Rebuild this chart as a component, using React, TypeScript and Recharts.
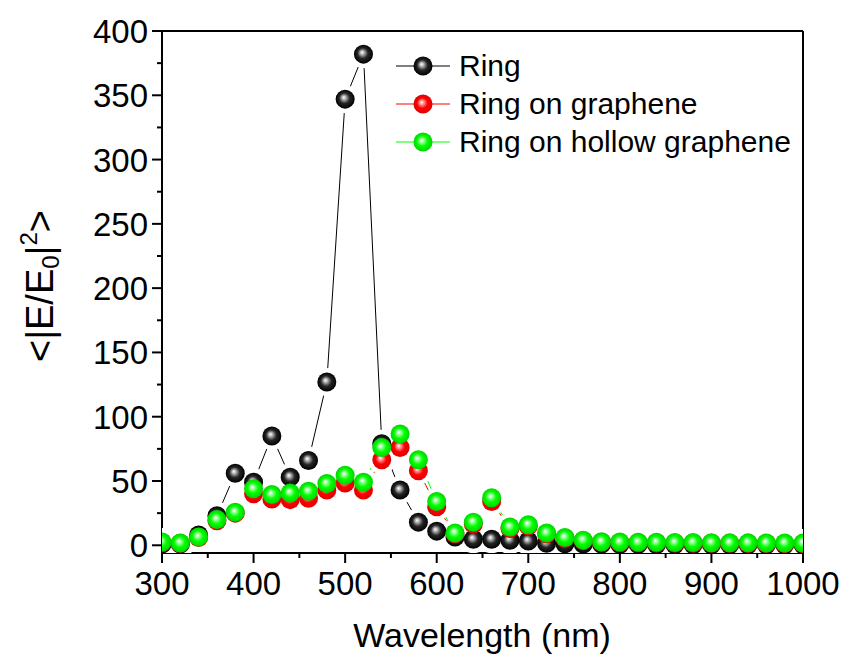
import React from 'react';
import { LineChart, Line, XAxis, YAxis, ReferenceLine, Legend } from 'recharts';

const wavelength = [
  300, 320, 340, 360, 380, 400, 420, 440, 460, 480, 500, 520, 540, 560, 580, 600, 620, 640,
  660, 680, 700, 720, 740, 760, 780, 800, 820, 840, 860, 880, 900, 920, 940, 960, 980, 1000,
];
const ring = [
  1, 1, 8, 23, 56, 49, 85, 53, 66, 127, 347, 382, 79, 43, 18, 11, 6.5, 4.7,
  4.7, 3.9, 3.3, 1.5, 1.2, 1, 0.9, 0.8, 0.7, 0.6, 0.6, 0.5, 0.5, 0.5, 0.4, 0.4, 0.4, 0.4,
];
const ringOnGraphene = [
  2, 1.5, 6, 19, 25, 40, 36, 35.5, 36.5, 43, 48.5, 43, 66.5, 76, 58, 30, 9, 16.5,
  34, 13, 15, 9, 5.5, 3.6, 2.4, 2, 1.9, 1.8, 1.7, 1.6, 1.5, 1.5, 1.4, 1.4, 1.3, 1.3,
];
const ringOnHollow = [
  2.5, 1.8, 6.5, 20, 25.7, 44, 39.5, 40.7, 42, 48, 54.5, 49, 76, 86.5, 66.5, 34, 9.6, 18,
  37, 14.2, 16, 9.6, 6, 4, 2.7, 2.5, 2.4, 2.3, 2.2, 2.1, 2, 1.9, 1.9, 1.8, 1.8, 1.7,
];

const xTicks = [300, 350, 400, 450, 500, 550, 600, 650, 700, 750, 800, 850, 900, 950, 1000];
const yTicks = [0, 25, 50, 75, 100, 125, 150, 175, 200, 225, 250, 275, 300, 325, 350, 375, 400];

const data = wavelength.map((wl, i) => ({
  wl,
  ring: ring[i],
  graphene: ringOnGraphene[i],
  hollow: ringOnHollow[i],
}));

const FONT = '"Liberation Sans", Arial, sans-serif';

const series = [
  { key: 'ring', name: 'Ring', color: '#000000', ball: 'ball-black' },
  { key: 'graphene', name: 'Ring on graphene', color: '#ff0000', ball: 'ball-red' },
  { key: 'hollow', name: 'Ring on hollow graphene', color: '#00ff00', ball: 'ball-green' },
];

function BallGradient({ id, light, mid, dark }: { id: string; light: string; mid: string; dark: string }) {
  return (
    <radialGradient id={id} cx="50%" cy="50%" r="50%" fx="42%" fy="40%">
      <stop offset="0%" stopColor="#ffffff" />
      <stop offset="16%" stopColor={light} />
      <stop offset="55%" stopColor={mid} />
      <stop offset="100%" stopColor={dark} />
    </radialGradient>
  );
}

const BALL_R = 9.5;

const ballDot = (fill: string) => (props: any) => {
  const { cx, cy, index } = props;
  if (cx == null || cy == null) return <g key={index} />;
  return <circle key={index} cx={cx} cy={cy} r={BALL_R} fill={`url(#${fill})`} />;
};

// white ring so the lines stop short of the balls, like the original
const haloDot = (props: any) => {
  const { cx, cy, index } = props;
  if (cx == null || cy == null) return <g key={index} />;
  return <circle key={index} cx={cx} cy={cy} r={14} fill="#ffffff" />;
};

function YTick({ x, y, payload }: any) {
  const major = payload.value % 50 === 0;
  return (
    <g>
      <line x1={x} x2={x - (major ? 10 : 5)} y1={y} y2={y} stroke="#000" strokeWidth={2} />
      {major && (
        <text x={x - 14} y={y} dy={12} textAnchor="end" fontSize={33} fontFamily={FONT} fill="#000">
          {payload.value}
        </text>
      )}
    </g>
  );
}

function XTick({ x, y, payload }: any) {
  const major = payload.value % 100 === 0;
  return (
    <g>
      <line x1={x} x2={x} y1={y} y2={y + (major ? 10 : 5)} stroke="#000" strokeWidth={2} />
      {major && (
        <text x={x} y={y + 42} textAnchor="middle" fontSize={33} fontFamily={FONT} fill="#000">
          {payload.value}
        </text>
      )}
    </g>
  );
}

function XTitle() {
  return (
    <text x={482} y={647} textAnchor="middle" fontSize={34} fontFamily={FONT} fill="#000">
      Wavelength (nm)
    </text>
  );
}

function YTitle() {
  return (
    <text
      x={53}
      y={286}
      transform="rotate(-90, 53, 286)"
      textAnchor="middle"
      fontSize={38}
      fontFamily={FONT}
      fill="#000"
    >
      {'<|E/E'}
      <tspan fontSize={24} dy={6}>0</tspan>
      <tspan dy={-6}>|</tspan>
      <tspan fontSize={24} dy={-16}>2</tspan>
      <tspan dy={16}>{'>'}</tspan>
    </text>
  );
}

function LegendBox() {
  return (
    <svg width={440} height={130}>
      {series.map((s, i) => {
        const cy = 26 + i * 38;
        return (
          <g key={s.key}>
            <line x1={6} x2={60} y1={cy} y2={cy} stroke={s.color} strokeWidth={1} />
            <circle cx={33} cy={cy} r={BALL_R} fill={`url(#${s.ball})`} />
            <text x={69} y={cy + 10} fontSize={30} fontFamily={FONT} fill="#000">
              {s.name}
            </text>
          </g>
        );
      })}
    </svg>
  );
}

export default function App() {
  const yAxisWidth = 80;
  const xAxisHeight = 60;
  return (
    <div style={{ position: 'absolute', left: 0, top: 0, width: 847, height: 660, background: '#fff' }}>
      <svg width={0} height={0} style={{ position: 'absolute' }}>
        <defs>
          <BallGradient id="ball-black" light="#c8c8c8" mid="#262626" dark="#000000" />
          <BallGradient id="ball-red" light="#ffb0b0" mid="#ff0000" dark="#e00000" />
          <BallGradient id="ball-green" light="#b8ffb8" mid="#00ff00" dark="#00d400" />
        </defs>
      </svg>
      <LineChart
        width={847}
        height={660}
        data={data}
        margin={{ top: 31, right: 44, bottom: 107 - xAxisHeight, left: 162 - yAxisWidth }}
      >
        <XAxis
          dataKey="wl"
          type="number"
          domain={[300, 1000]}
          ticks={xTicks}
          allowDataOverflow
          height={xAxisHeight}
          tickSize={0}
          tickMargin={0}
          tickLine={false}
          tick={<XTick />}
          axisLine={{ stroke: '#000', strokeWidth: 2 }}
          label={<XTitle />}
          interval={0}
        />
        <YAxis
          type="number"
          domain={[-6, 400]}
          ticks={yTicks}
          allowDataOverflow
          width={yAxisWidth}
          tickSize={0}
          tickMargin={0}
          tickLine={false}
          tick={<YTick />}
          axisLine={{ stroke: '#000', strokeWidth: 2 }}
          label={<YTitle />}
          interval={0}
        />
        <Legend
          layout="horizontal"
          verticalAlign="middle"
          align="center"
          wrapperStyle={{ position: 'absolute', left: 390, top: 40, width: 440 }}
          content={() => <LegendBox />}
        />
        {series.map((s) => (
          <Line
            key={`line-${s.key}`}
            dataKey={s.key}
            stroke={s.color}
            strokeWidth={1}
            dot={false}
            activeDot={false}
            legendType="none"
            isAnimationActive={false}
          />
        ))}
        {series.map((s) => (
          <Line
            key={`halo-${s.key}`}
            dataKey={s.key}
            stroke="none"
            dot={haloDot}
            activeDot={false}
            legendType="none"
            isAnimationActive={false}
          />
        ))}
        {series.map((s) => (
          <Line
            key={`ball-${s.key}`}
            dataKey={s.key}
            name={s.name}
            stroke="none"
            dot={ballDot(s.ball)}
            activeDot={false}
            isAnimationActive={false}
          />
        ))}
        <ReferenceLine y={400} stroke="#000" strokeWidth={2} />
        <ReferenceLine x={1000} stroke="#000" strokeWidth={2} />
      </LineChart>
    </div>
  );
}
